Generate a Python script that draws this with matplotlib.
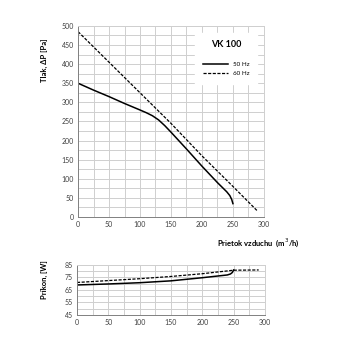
import matplotlib
matplotlib.use("Agg")
import matplotlib.pyplot as plt
from matplotlib.ticker import MultipleLocator

plt.rcParams['font.family'] = ['Lato', 'DejaVu Sans']

# pressure curves
q50 = [0, 25, 50, 75, 100, 110, 120, 130, 140, 150, 175, 200, 225, 240, 245, 248, 250]
p50 = [350, 332, 315, 297, 280, 273, 265, 254, 239, 222, 178, 133, 90, 66, 56, 46, 35]
q60 = [0, 50, 100, 150, 200, 250, 290]
p60 = [485, 405, 325, 245, 160, 80, 15]

# power curves
w_q50 = [0, 50, 100, 150, 200, 240, 245, 248, 250]
w50 = [69, 69.8, 70.8, 72.3, 74.8, 77, 77.8, 79, 81]
w_q60 = [0, 50, 100, 150, 200, 250, 290]
w60 = [71, 72.5, 74, 75.8, 78, 80.8, 81]

fig = plt.figure(figsize=(3.5, 3.5), dpi=100)
ax1 = fig.add_axes([0.223, 0.38, 0.531, 0.546])
ax2 = fig.add_axes([0.22, 0.1, 0.537, 0.143])

for ax in (ax1, ax2):
    ax.set_xlim(0, 300)
    ax.xaxis.set_major_locator(MultipleLocator(50))
    ax.xaxis.set_minor_locator(MultipleLocator(25))
    ax.grid(True, which='both', color='#cfcfcf', lw=0.7)
    ax.set_axisbelow(True)
    ax.tick_params(which='both', length=0, labelsize=5, colors='#404040', pad=3)
    for s in ax.spines.values():
        s.set_color('#cfcfcf')
        s.set_linewidth(0.7)
    ax.spines['left'].set_color('#808080')
    ax.spines['bottom'].set_color('#808080')

ax1.set_ylim(0, 500)
ax1.yaxis.set_major_locator(MultipleLocator(50))
ax1.yaxis.set_minor_locator(MultipleLocator(25))
ax1.plot(q50, p50, color='black', lw=1.1, label='50 Hz')
ax1.plot(q60, p60, color='black', lw=0.9, ls=(0, (2.5, 1.2)), label='60 Hz')
ax1.set_ylabel('Tlak, ΔP [Pa]', fontsize=5.5, fontweight='bold')
ax1.yaxis.set_label_coords(-0.16, 0.82)
ax1.set_xlabel('Prietok vzduchu  (m$^3$/h)', fontsize=5.5, fontweight='bold')
ax1.xaxis.set_label_coords(0.97, -0.1)
leg = ax1.legend(loc='upper right', title='VK 100', fontsize=4.5, frameon=True,
                 fancybox=False, edgecolor='white', framealpha=1,
                 handlelength=4, borderpad=1.2, labelspacing=0.6,
                 bbox_to_anchor=(0.98, 0.98))
leg.get_title().set_fontsize(6.5)
leg.get_title().set_fontweight('bold')
leg._legend_box.sep = 9

ax2.set_ylim(45, 85)
ax2.set_yticks([45, 55, 65, 75, 85])
ax2.yaxis.set_minor_locator(MultipleLocator(5))
ax2.plot(w_q50, w50, color='black', lw=1.1)
ax2.plot(w_q60, w60, color='black', lw=0.9, ls=(0, (2.5, 1.2)))
ax2.set_ylabel('Príkon, [W]', fontsize=5.5, fontweight='bold')
ax2.yaxis.set_label_coords(-0.155, 0.7)

fig.savefig('out.png', dpi=100)
